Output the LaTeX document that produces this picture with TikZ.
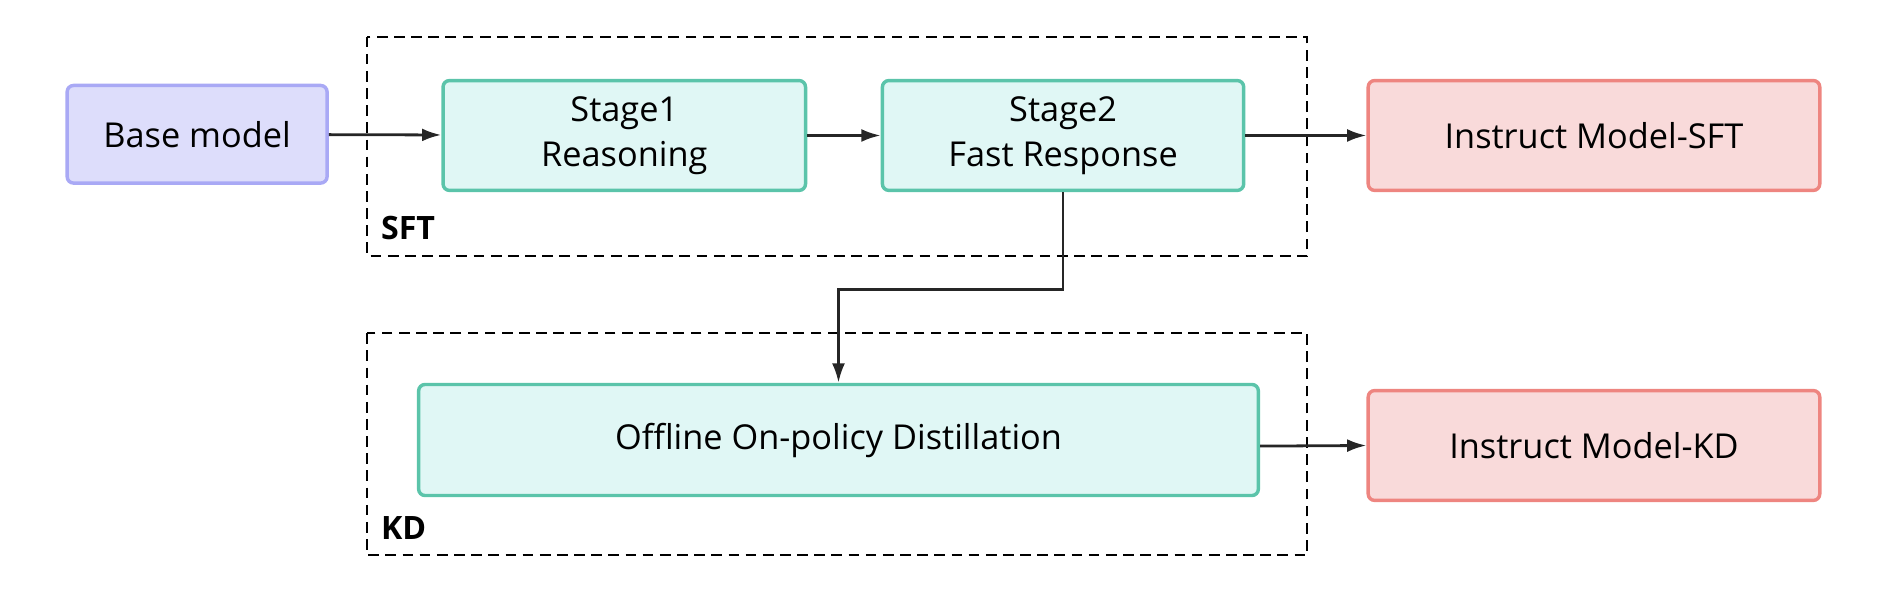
\documentclass[tikz,border=0pt]{standalone}
\usepackage{fontspec}
\setmainfont{Open Sans}
\usetikzlibrary{arrows.meta}
\definecolor{baseFill}{HTML}{DDDDFB}
\definecolor{baseLine}{HTML}{A9A9F5}
\definecolor{stageFill}{HTML}{E0F7F5}
\definecolor{stageLine}{HTML}{5BC4AA}
\definecolor{outFill}{HTML}{F9DADA}
\definecolor{outLine}{HTML}{EE8580}
\tikzset{
  box/.style={draw, line width=1.6pt, rounded corners=3pt, align=center, inner sep=0pt},
  basebox/.style={box, fill=baseFill, draw=baseLine},
  stagebox/.style={box, fill=stageFill, draw=stageLine},
  outbox/.style={box, fill=outFill, draw=outLine},
  group/.style={draw, dashed, line width=0.9pt, dash pattern=on 5pt off 3pt},
  flow/.style={-{Latex[length=9pt,width=6pt]}, line width=1.3pt, draw=black!85}
}
\begin{document}
\begin{tikzpicture}[x=0.02cm, y=-0.02cm, font=\fontsize{16}{21}\selectfont]
    \useasboundingbox (0,0) rectangle (1560,487);
    % groups
    \draw [group] (301,30) rectangle (1071,210);
    \node [anchor=south west, font=\fontsize{15}{18}\selectfont\bfseries] (sftlab) at (306,203) {SFT};
    \draw [group] (301,273) rectangle (1071,455);
    \node [anchor=south west, font=\fontsize{15}{18}\selectfont\bfseries] (kdlab) at (306,448) {KD};
    % nodes
    \node [basebox, minimum width=213*0.02cm, minimum height=80*0.02cm] (base) at (161.5,110) {Base model};
    \node [stagebox, minimum width=297*0.02cm, minimum height=90*0.02cm] (stage1) at (511.5,111) {Stage1\\Reasoning};
    \node [stagebox, minimum width=296*0.02cm, minimum height=90*0.02cm] (stage2) at (871,111) {Stage2\\Fast Response};
    \node [outbox, minimum width=370*0.02cm, minimum height=90*0.02cm] (sft) at (1306,111) {Instruct Model-SFT};
    \node [stagebox, minimum width=688*0.02cm, minimum height=91*0.02cm] (distill) at (687,360.5) {Offline On-policy Distillation};
    \node [outbox, minimum width=370*0.02cm, minimum height=90*0.02cm] (kd) at (1306,365) {Instruct Model-KD};
    % connectors
    \draw [flow] (base) -- (stage1);
    \draw [flow] (stage1) -- (stage2);
    \draw [flow] (stage2) -- (sft);
    \draw [flow] (stage2.south) -- ++(0,80) -| (distill.north);
    \draw [flow] (distill.east) ++(0,5) -- (kd.west);
\end{tikzpicture}
\end{document}
